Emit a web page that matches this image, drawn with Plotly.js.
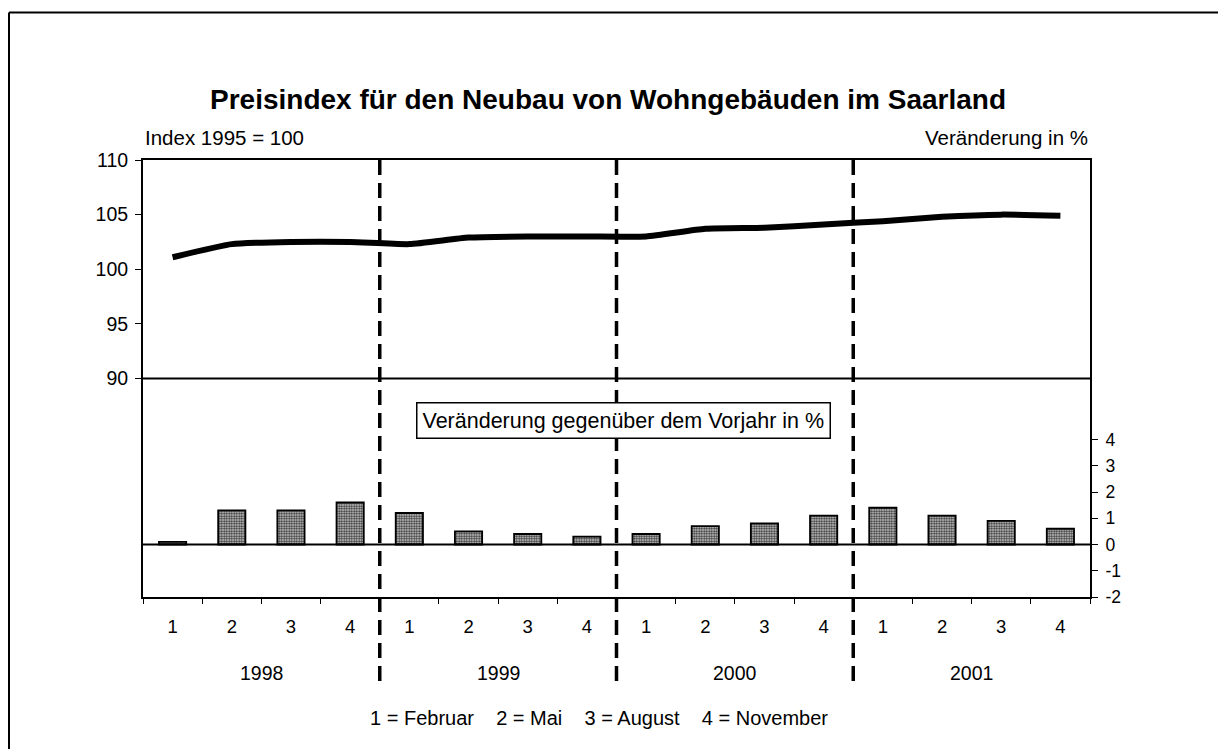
<!DOCTYPE html>
<html>
<head>
<meta charset="utf-8">
<script src="https://cdn.plot.ly/plotly-3.0.1.min.js"></script>
<style>html,body{margin:0;padding:0;background:#fff;}</style>
</head>
<body>
<div id="chart" style="width:1218px;height:749px;"></div>
<script>
// ---- data ----
const years    = ['1998','1998','1998','1998','1999','1999','1999','1999','2000','2000','2000','2000','2001','2001','2001','2001'];
const quarters = ['1','2','3','4','1','2','3','4','1','2','3','4','1','2','3','4'];
const indexValues  = [101.1, 102.3, 102.5, 102.5, 102.3, 102.9, 103.0, 103.0, 103.0, 103.7, 103.8, 104.1, 104.4, 104.8, 105.0, 104.9];
const changeValues = [0.1, 1.3, 1.3, 1.6, 1.2, 0.5, 0.4, 0.3, 0.4, 0.7, 0.8, 1.1, 1.4, 1.1, 0.9, 0.6];
const leftTicks  = [90, 95, 100, 105, 110];
const rightTicks = [-2, -1, 0, 1, 2, 3, 4];
const titleText = 'Preisindex für den Neubau von Wohngebäuden im Saarland';
const leftAxisLabel = 'Index 1995 = 100';
const rightAxisLabel = 'Veränderung in %';
const boxLabel = 'Veränderung gegenüber dem Vorjahr in %';
const monthLegend = ['1 = Februar', '2 = Mai', '3 = August', '4 = November'];

// ---- derived ----
const xIdx = quarters.map((q, i) => i);
const uniqueYears = [...new Set(years)];
const yearCenters = uniqueYears.map(y => {
  const idx = xIdx.filter(i => years[i] === y);
  return idx.reduce((a, b) => a + b, 0) / idx.length;
});
const yearBounds = xIdx.filter(i => i > 0 && years[i] !== years[i - 1]).map(i => i - 0.5);

const FONT = 'Liberation Sans, Arial, Helvetica, sans-serif';

const traces = [
  {
    type: 'bar', x: xIdx, y: changeValues, yaxis: 'y2', width: 0.46,
    marker: {
      color: '#9a9a9a',
      line: {color: '#000', width: 1.8},
      pattern: {shape: '.', size: 2.5, solidity: 0.55, fgcolor: '#333', bgcolor: '#d8d8d8', fillmode: 'replace'}
    },
    hoverinfo: 'skip'
  },
  {
    type: 'scatter', mode: 'lines', x: xIdx, y: indexValues, yaxis: 'y',
    line: {color: '#000', width: 6, shape: 'spline', smoothing: 0.5},
    hoverinfo: 'skip'
  }
];

const shapes = [];
// outer frame (top and left)
shapes.push({type: 'line', xref: 'paper', yref: 'paper', x0: (9 - 143) / 947, x1: (9 - 143) / 947, y0: (597 - 760) / 437, y1: (597 - 12.5) / 437, line: {color: '#000', width: 2}});
shapes.push({type: 'line', xref: 'paper', yref: 'paper', x0: (9 - 143) / 947, x1: (1230 - 143) / 947, y0: (597 - 12.5) / 437, y1: (597 - 12.5) / 437, line: {color: '#000', width: 2}});
// separator line at 90
shapes.push({type: 'line', xref: 'paper', yref: 'y', x0: 0, x1: 1, y0: leftTicks[0], y1: leftTicks[0], line: {color: '#000', width: 2}});
// zero line for bars
shapes.push({type: 'line', xref: 'paper', yref: 'y2', x0: 0, x1: 1, y0: 0, y1: 0, line: {color: '#000', width: 2}});
// dashed year separators
yearBounds.forEach(b => {
  shapes.push({type: 'line', xref: 'x', yref: 'paper', x0: b, x1: b, y0: 1, y1: (597 - 688) / 437, layer: 'above',
    line: {color: '#000', width: 3.5, dash: '15px,8px'}});
});

const annotations = [];
annotations.push({xref: 'paper', yref: 'paper', x: (608 - 143) / 947, y: 1, yshift: 61, xanchor: 'center', yanchor: 'middle',
  text: '<b>' + titleText + '</b>', showarrow: false, font: {family: FONT, size: 28, color: '#000'}});
annotations.push({xref: 'paper', yref: 'paper', x: 0, y: 1, yshift: 23, xanchor: 'left', yanchor: 'middle',
  text: leftAxisLabel, showarrow: false, font: {family: FONT, size: 20.5, color: '#000'}});
annotations.push({xref: 'paper', yref: 'paper', x: 1, y: 1, yshift: 23, xanchor: 'right', yanchor: 'middle',
  text: rightAxisLabel, showarrow: false, font: {family: FONT, size: 20.5, color: '#000'}});
annotations.push({xref: 'x', yref: 'paper', x: 8.12 - 0.5, y: (597 - 420) / 437, xanchor: 'center', yanchor: 'middle',
  text: boxLabel, showarrow: false, font: {family: FONT, size: 21.5, color: '#000'},
  bgcolor: '#fff', bordercolor: '#000', borderwidth: 1.5, borderpad: 5});
uniqueYears.forEach((y, k) => {
  annotations.push({xref: 'x', yref: 'paper', x: yearCenters[k], y: 0, yshift: -76, xanchor: 'center', yanchor: 'middle',
    text: y, showarrow: false, font: {family: FONT, size: 19.5, color: '#000'}});
});
annotations.push({xref: 'paper', yref: 'paper', x: (598.5 - 143) / 947, y: 0, yshift: -121, xanchor: 'center', yanchor: 'middle',
  text: monthLegend.join('\u00a0\u00a0\u00a0\u00a0'), showarrow: false, font: {family: FONT, size: 20, color: '#000'}});

const layout = {
  width: 1218, height: 749,
  margin: {l: 143, r: 128, t: 160, b: 152, pad: 0},
  paper_bgcolor: '#fff', plot_bgcolor: '#fff',
  showlegend: false,
  font: {family: FONT, size: 18, color: '#000'},
  xaxis: {
    range: [-0.5, 15.5], tickmode: 'array', tickvals: xIdx, ticktext: quarters,
    ticks: '', showgrid: false, zeroline: false,
    showline: true, linecolor: '#000', linewidth: 2, mirror: true,
    ticklabelstandoff: 12,
    tickfont: {family: FONT, size: 18.5, color: '#000'},
    minor: {tick0: -0.5, dtick: 1, ticks: 'outside', ticklen: 5, tickwidth: 1, tickcolor: '#000', showgrid: false}
  },
  yaxis: {
    range: [70, 110], tickmode: 'array', tickvals: leftTicks, ticktext: leftTicks.map(String),
    ticks: 'outside', ticklen: 6, tickwidth: 1, tickcolor: '#000',
    showgrid: false, zeroline: false, showline: true, linecolor: '#000', linewidth: 2,
    ticklabelstandoff: 3,
    tickfont: {family: FONT, size: 19.5, color: '#000'}
  },
  yaxis2: {
    overlaying: 'y', side: 'right',
    range: [-2, 14.65], tickmode: 'array', tickvals: rightTicks, ticktext: rightTicks.map(String),
    ticks: 'outside', ticklen: 6, tickwidth: 1, tickcolor: '#000',
    showgrid: false, zeroline: false, showline: true, linecolor: '#000', linewidth: 2,
    ticklabelstandoff: 4,
    tickfont: {family: FONT, size: 17.5, color: '#000'}
  },
  shapes: shapes,
  annotations: annotations
};

Plotly.newPlot('chart', traces, layout, {displayModeBar: false, staticPlot: true});
</script>
</body>
</html>
